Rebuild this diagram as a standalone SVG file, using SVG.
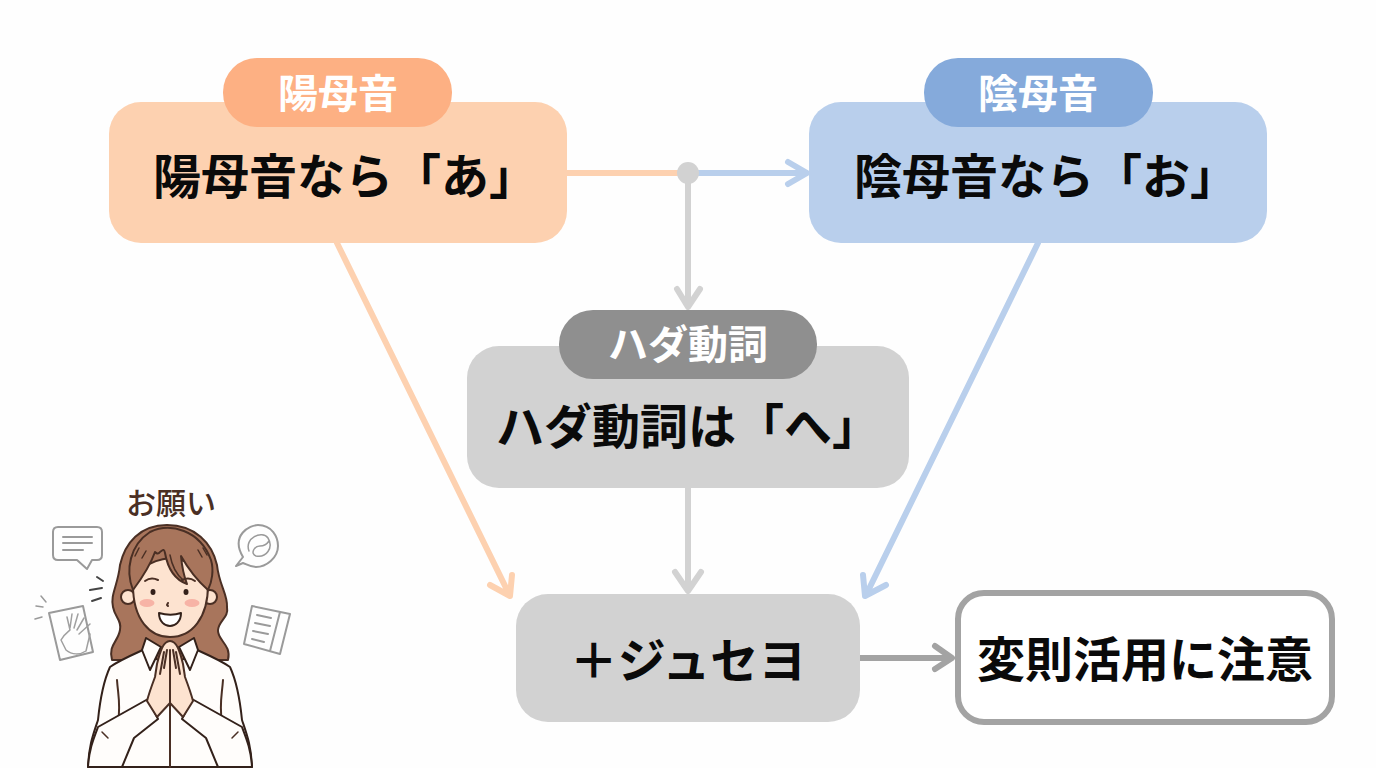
<svg xmlns="http://www.w3.org/2000/svg" width="1376" height="768" viewBox="0 0 1376 768">
<style>
text{font-family:"Noto Sans CJK JP","Noto Sans",sans-serif;font-weight:700;text-anchor:middle}
.main{font-size:48px;fill:#0a0a0a}
.tag{font-size:40px;fill:#fff}
.con{fill:none;stroke-width:6;stroke-linecap:round;stroke-linejoin:round}
.ink{fill:none;stroke:#4a2f24;stroke-width:2;stroke-linecap:round;stroke-linejoin:round}
.ico{fill:none;stroke:#9a9a9a;stroke-width:2;stroke-linecap:round;stroke-linejoin:round}
.hair{fill:#a8755c;stroke:#4a2f24;stroke-width:2;stroke-linejoin:round}
.skin{fill:#fde3d0;stroke:#4a2f24;stroke-width:2;stroke-linejoin:round}
.cloth{fill:#fffdfb;stroke:#33211a;stroke-width:2;stroke-linejoin:round;stroke-linecap:round}
</style>
<rect width="1376" height="768" fill="#fefefe"/>
<g id="connectors">
<path class="con" d="M566 173H688" stroke="#fdd1b0"/>
<path class="con" d="M688 173H806M788 162L807 173L788 184" stroke="#b9cfec"/>
<path class="con" d="M688 173V306M677 289L688 307L700 289" stroke="#d2d2d2"/>
<circle cx="688" cy="173" r="11" fill="#d2d2d2"/>
<path class="con" d="M337 243L509 594M512 575L510 596L490 585" stroke="#fdd1b0"/>
<path class="con" d="M1038 243L866 595M863 575L865 596L886 585" stroke="#b9cfec"/>
<path class="con" d="M688 488V590M675 572L688 591L701 572" stroke="#d2d2d2"/>
<path class="con" d="M860 658H951M935 646L952 658L935 669" stroke="#a3a3a3"/>
</g>
<g id="node-yang">
<rect x="109" y="102" width="458" height="141" rx="32" fill="#fdd1b0"/>
<rect x="223" y="58" width="229" height="69" rx="34" fill="#fdb083"/>
<text class="tag" x="338" y="108">陽母音</text>
<text class="main" x="345" y="194">陽母音なら「あ」</text>
</g>
<g id="node-yin">
<rect x="809" y="102" width="458" height="141" rx="32" fill="#b9cfec"/>
<rect x="924" y="58" width="229" height="69" rx="34" fill="#85aadb"/>
<text class="tag" x="1038" y="108">陰母音</text>
<text class="main" x="1046" y="194">陰母音なら「お」</text>
</g>
<g id="node-hada">
<rect x="467" y="346" width="442" height="142" rx="32" fill="#d2d2d2"/>
<rect x="559" y="310" width="258" height="69" rx="34" fill="#8f8f8f"/>
<text class="tag" x="688" y="359">ハダ動詞</text>
<text class="main" x="688" y="444">ハダ動詞は「へ」</text>
</g>
<g id="node-juseyo">
<rect x="516" y="594" width="344" height="128" rx="32" fill="#d2d2d2"/>
<text class="main" x="688" y="678">＋ジュセヨ</text>
</g>
<g id="node-note">
<rect x="958" y="593" width="374" height="129" rx="26" fill="#fff" stroke="#a3a3a3" stroke-width="6"/>
<text class="main" x="1145" y="677">変則活用に注意</text>
</g>
<g id="illustration">
<text x="171" y="514" style="font-size:30px;fill:#4a2f24;font-weight:500">お願い</text>
<path class="hair" d="M167 525C140 525 125 543 120 565C118 585 110 595 113 607C115 618 122 620 120 630C118 642 108 645 112 660L228 660C232 645 217 640 218 630C219 620 229 618 227 607C228 595 219 585 217 565C212 543 195 525 167 525Z"/>
<circle cx="128" cy="597" r="7" class="skin"/>
<circle cx="210" cy="597" r="7" class="skin"/>
<path class="skin" d="M133 585C133 620 150 637 170 637C192 637 208 618 208 585C208 572 190 560 170 558C150 560 133 572 133 585Z"/>
<path class="hair" d="M155 552C150 566 142 578 133 590C125 570 130 545 150 532C170 522 200 530 211 560C214 570 212 582 208 590C200 583 190 572 181 556C182 568 184 576 187 584C176 580 168 570 165 553C164 548 163 550 160 552C158 555 156 553 155 552Z"/>
<path class="ink" d="M170 555C172 566 176 574 183 580M135 556L139 548M142 558L146 551M198 550L202 557M203 548L207 555" style="stroke-width:1.500"/>
<path class="ink" d="M145 581C149 578 154 578 158 580M182 580C186 578 191 578 195 581"/>
<ellipse cx="153" cy="592" rx="2.500" ry="3" fill="#33211a"/>
<ellipse cx="186" cy="592" rx="2.500" ry="3" fill="#33211a"/>
<ellipse cx="147" cy="603" rx="7.500" ry="4" fill="#f7b3a6"/>
<ellipse cx="192" cy="603" rx="7.500" ry="4" fill="#f7b3a6"/>
<path class="ink" d="M168 603L167 605L168 606"/>
<path d="M159 613C166 615 175 615 181 613C181 622 175 626 170 626C165 626 159 622 159 613Z" fill="#fff" stroke="#33211a" stroke-width="2" stroke-linejoin="round"/>
<path class="cloth" d="M88 767C89 745 93 735 98 720C100 700 104 680 110 667C120 660 132 655 143 650L170 668L197 650C208 655 220 660 230 667C236 680 240 700 242 720C247 735 251 745 252 767Z"/>
<path class="ink" d="M170 703V767M117 680C118 695 121 705 118 722M223 680C222 695 219 705 222 722"/>
<path class="cloth" d="M98 727L148 699L158 719L134 738L122 767H88C89 750 93 740 98 727Z"/>
<path class="cloth" d="M242 727L192 699L182 719L206 738L218 767H252C251 750 247 740 242 727Z"/>
<path class="ink" d="M102 732L108 738M238 732L232 738" style="stroke-width:1.500"/>
<path class="cloth" d="M142 650L146 638L161 647L150 670Z"/>
<path class="cloth" d="M198 650L194 638L179 647L190 670Z"/>
<path class="skin" d="M170 641C163 641 160 652 157 664L155 677C152 685 149 693 147 701L157 717L170 703L183 717L193 701C191 693 188 685 185 677L183 664C180 652 177 641 170 641Z"/>
<path class="ink" d="M170 650V703M164 652L160 674M176 652L180 674M167 650L164 668M173 650L176 668"/>
<path class="ico" d="M58 527H97Q102 527 102 532V555Q102 560 97 560H92L87 569L77 560H58Q53 560 53 555V532Q53 527 58 527ZM63 537H92M63 543H92M63 550H83"/>
<path class="ico" d="M236 566L243 557C230 535 250 525 258 525C272 525 278 537 278 546C278 558 266 567 256 567C250 567 246 564 243 563Z"/>
<path class="ico" d="M249 551C244 538 262 530 268 538C274 548 266 558 256 556C250 554 254 546 260 546C264 546 267 544 269 541" style="stroke-width:1.500"/>
<path class="ico" d="M252 606L290 614L280 654L244 644ZM280 612L270 651M257 615L271 618M255 623L270 626M253 631L268 634M252 639L264 642"/>
<path class="ico" d="M49 613L83 606L93 652L60 660Z"/>
<path class="ico" d="M61 640C64 634 68 632 70 630L67 617M70 628L72 614M74 628L78 614M77 630L84 618M79 634L90 624M61 640L66 650C72 655 80 655 86 651L90 634" style="stroke-width:1.500;stroke:#a0a0a0"/>
<path class="ico" d="M46 602L41 596M42 617L35 619M43 607L36 606" style="stroke-width:1.500"/>
<path d="M97 577L103 581M90 590L102 588M92 601L101 598" fill="none" stroke="#444" stroke-width="2" stroke-linecap="round"/>
</g>
</svg>
